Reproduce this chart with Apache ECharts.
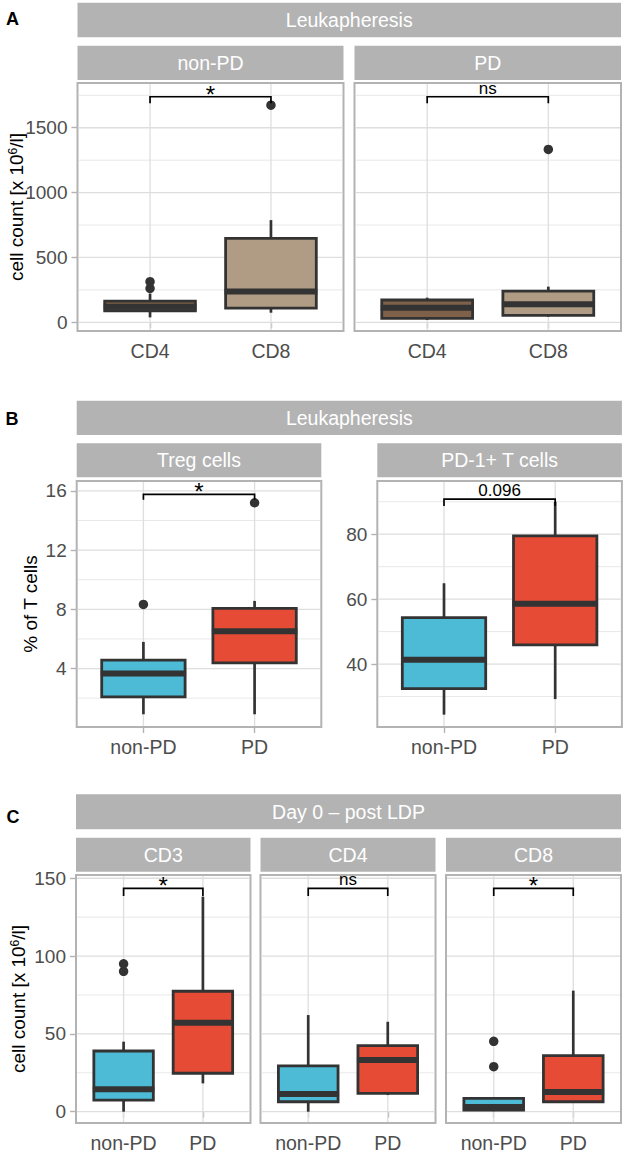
<!DOCTYPE html>
<html><head><meta charset="utf-8">
<script src="https://cdn.jsdelivr.net/npm/echarts@6/dist/echarts.min.js"></script>
<style>html,body{margin:0;padding:0;background:#fff}#c{width:634px;height:1175px}</style>
</head><body><div id="c"></div>
<script>
// ---------------- data ----------------
const groupCats = ['non-PD', 'PD'];
const cellCatsA = ['CD4', 'CD8'];
// box stats: [lower whisker, Q1, median, Q3, upper whisker]
const leukNonPD = [[38, 88, 120, 164, 222], [74, 109, 238, 647, 788]];
const leukPD = [[18, 31, 113, 172, 190], [43, 54, 139, 241, 275]];
const leukNonPDOut = [[1, 262], [1, 313], [2, 1674]];
const leukPDOut = [[2, 1333]];
const tregStats = [[0.91, 2.08, 3.66, 4.57, 5.8], [0.91, 4.38, 6.52, 8.06, 8.57]];
const tregOut = [[1, 8.33], [2, 15.2]];
const pd1Stats = [[24.4, 32.4, 41.3, 54.3, 64.9], [29.2, 45.9, 58.6, 79.5, 90.0]];
const pd1Out = [];
const day0CD3 = [[0, 7.5, 14.4, 39.0, 45], [18.2, 24.7, 57.2, 77.4, 138.2]];
const day0CD3Out = [[1, 90.2], [1, 95.0]];
const day0CD4 = [[0, 6.4, 11.3, 29.4, 62.1], [10.7, 11.8, 33.2, 42.4, 57.8]];
const day0CD4Out = [];
const day0CD8 = [[0.3, 1.1, 3.0, 8.6, 8.6], [6.0, 6.4, 12.7, 36.0, 77.8]];
const day0CD8Out = [[1, 28.9], [1, 45.2]];
// significance brackets: [bracket y, tip end y]
const sigLeuk = [1739, 1688];
const sigTreg = [15.77, 15.4];
const sigPD1 = [90.8, 88.7];
const sigDay0 = [143.5, 138.6];
const sigLabels = ['*', 'ns', '*', '0.096', '*', 'ns', '*'];
// tick labels
const ticksLeuk = [0, 500, 1000, 1500], minorLeuk = [250, 750, 1250, 1750];
const ticksTreg = [4, 8, 12, 16], minorTreg = [2, 6, 10, 14];
const ticksPD1 = [40, 60, 80], minorPD1 = [30, 50, 70, 90];
const ticksDay0 = [0, 50, 100, 150], minorDay0 = [25, 75, 125];
// strip and title texts
const topStrips = ['Leukapheresis', 'Leukapheresis', 'Day 0 \u2013 post LDP'];
const subStrips = ['non-PD', 'PD', 'Treg cells', 'PD-1+ T cells', 'CD3', 'CD4', 'CD8'];
const yTitles = ['cell count [x 10{sup|6}/l]', '% of T cells', 'cell count [x 10{sup|6}/l]'];
const panelLetters = ['A', 'B', 'C'];

// ---------------- styling / layout ----------------
const FONT = '"Liberation Sans", Arial, Helvetica, sans-serif';
const DARK = '#333333', GREY70 = '#b3b3b3', GRID = '#dedede';
const BLUE = '#4DBBD5', RED = '#E64B35', BROWN = '#7E6148', TAN = '#B09C85';
const BOX_W = 0.75;

const panels = [
  {left: 77.5, top: 83, width: 266, height: 248, yMin: -67, yMax: 1845, cats: cellCatsA, stats: leukNonPD, colors: [BROWN, TAN], out: leukNonPDOut, sig: sigLeuk, major: ticksLeuk, minor: minorLeuk, showY: true},
  {left: 354.5, top: 83, width: 266.5, height: 248, yMin: -67, yMax: 1845, cats: cellCatsA, stats: leukPD, colors: [BROWN, TAN], out: leukPDOut, sig: sigLeuk, major: ticksLeuk, minor: minorLeuk, showY: false},
  {left: 76.7, top: 481, width: 244.6, height: 246, yMin: 0.05, yMax: 16.67, cats: groupCats, stats: tregStats, colors: [BLUE, RED], out: tregOut, sig: sigTreg, major: ticksTreg, minor: minorTreg, showY: true},
  {left: 377.3, top: 481, width: 244.6, height: 246, yMin: 20.6, yMax: 96.4, cats: groupCats, stats: pd1Stats, colors: [BLUE, RED], out: pd1Out, sig: sigPD1, major: ticksPD1, minor: minorPD1, showY: true},
  {left: 76, top: 875, width: 174.5, height: 248, yMin: -7.26, yMax: 152.1, cats: groupCats, stats: day0CD3, colors: [BLUE, RED], out: day0CD3Out, sig: sigDay0, major: ticksDay0, minor: minorDay0, showY: true},
  {left: 260.5, top: 875, width: 175, height: 248, yMin: -7.26, yMax: 152.1, cats: groupCats, stats: day0CD4, colors: [BLUE, RED], out: day0CD4Out, sig: sigDay0, major: ticksDay0, minor: minorDay0, showY: false},
  {left: 446, top: 875, width: 175, height: 248, yMin: -7.26, yMax: 152.1, cats: groupCats, stats: day0CD8, colors: [BLUE, RED], out: day0CD8Out, sig: sigDay0, major: ticksDay0, minor: minorDay0, showY: false}
];

const topStripBoxes = [
  {x: 77.5, y: 2.7, w: 543.5, h: 34.6},
  {x: 76.7, y: 400.7, w: 545.2, h: 34.3},
  {x: 76, y: 794.3, w: 545, h: 35}
];
const subStripBoxes = [
  {x: 77.5, y: 45.7, w: 266, h: 34.3},
  {x: 354.5, y: 45.7, w: 266.5, h: 34.3},
  {x: 76.7, y: 443.3, w: 244.6, h: 34},
  {x: 377.3, y: 443.3, w: 244.6, h: 34},
  {x: 76, y: 837.7, w: 174.5, h: 34},
  {x: 260.5, y: 837.7, w: 175, h: 34},
  {x: 446, y: 837.7, w: 175, h: 34}
];
const yTitlePos = [[16, 207], [30, 604], [18, 999]];
const letterPos = [[12.5, 19], [12, 419], [13, 817]];

function renderGridLines(params, api) {
  const v = api.value(0), kind = api.value(1);
  const cs = params.coordSys;
  if (kind === 2) {
    const x = api.coord([v, 0])[0];
    return {type: 'line', shape: {x1: x, y1: cs.y + 1, x2: x, y2: cs.y + cs.height - 1}, style: {stroke: GRID, lineWidth: 1.3}};
  }
  const y = api.coord([1, v])[1];
  return {type: 'line', shape: {x1: cs.x + 1, y1: y, x2: cs.x + cs.width - 1, y2: y}, style: {stroke: GRID, lineWidth: kind === 1 ? 1.3 : 0.7}};
}

function renderBox(params, api) {
  const x = api.value(0);
  const lo = api.coord([x, api.value(1)]);
  const q1 = api.coord([x, api.value(2)]);
  const md = api.coord([x, api.value(3)]);
  const q3 = api.coord([x, api.value(4)]);
  const hi = api.coord([x, api.value(5)]);
  const hw = api.size([BOX_W, 0])[0] / 2;
  const cx = lo[0];
  const fill = api.visual('color');
  return {type: 'group', children: [
    {type: 'line', shape: {x1: cx, y1: q3[1], x2: cx, y2: hi[1]}, style: {stroke: DARK, lineWidth: 2.7}},
    {type: 'line', shape: {x1: cx, y1: q1[1], x2: cx, y2: lo[1]}, style: {stroke: DARK, lineWidth: 2.7}},
    {type: 'rect', shape: {x: cx - hw, y: q3[1], width: 2 * hw, height: q1[1] - q3[1]}, style: {fill: fill, stroke: DARK, lineWidth: 2.8}},
    {type: 'line', shape: {x1: cx - hw - 1, y1: md[1], x2: cx + hw + 1, y2: md[1]}, style: {stroke: DARK, lineWidth: 6}}
  ]};
}

function makeBracketRender(label) {
  return function (params, api) {
    const x1 = api.value(0), x2 = api.value(1), yb = api.value(2), yt = api.value(3);
    const a = api.coord([x1, yt]), b = api.coord([x1, yb]), c = api.coord([x2, yb]), d = api.coord([x2, yt]);
    const star = label === '*';
    return {type: 'group', children: [
      {type: 'polyline', shape: {points: [a, b, c, d]}, style: {stroke: '#000', lineWidth: 1.7, fill: null}},
      {type: 'text', style: {text: label, x: (b[0] + c[0]) / 2, y: star ? b[1] - 2.5 : b[1],
        align: 'center', verticalAlign: star ? 'middle' : 'bottom',
        fontSize: star ? 24 : 17, fontFamily: FONT, fill: '#000'}}
    ]};
  };
}

const option = {
  backgroundColor: '#fff', animation: false,
  textStyle: {fontFamily: FONT},
  grid: [], xAxis: [], yAxis: [], series: [], graphic: []
};

panels.forEach((p, i) => {
  option.grid.push({left: p.left, top: p.top, width: p.width, height: p.height, show: true,
    borderColor: GREY70, borderWidth: 2, backgroundColor: '#fff', containLabel: false});
  option.xAxis.push({type: 'value', gridIndex: i, min: 0.4, max: 2.6,
    axisLine: {show: false}, splitLine: {show: false},
    axisTick: {show: true, customValues: [1, 2], length: 6, lineStyle: {color: GREY70, width: 1.4}},
    axisLabel: {show: true, customValues: [1, 2], formatter: v => p.cats[Math.round(v) - 1], margin: 10,
      color: '#4d4d4d', fontSize: 19.5, fontFamily: FONT}});
  option.yAxis.push({type: 'value', gridIndex: i, min: p.yMin, max: p.yMax,
    axisLine: {show: false}, splitLine: {show: false},
    axisTick: {show: p.showY, customValues: p.major, length: 6, lineStyle: {color: GREY70, width: 1.4}},
    axisLabel: {show: p.showY, customValues: p.major, formatter: v => String(v), margin: 10,
      color: '#4d4d4d', fontSize: 19, fontFamily: FONT}});
  const gridData = p.major.map(v => [v, 1]).concat(p.minor.map(v => [v, 0])).concat([[1, 2], [2, 2]]);
  option.series.push({type: 'custom', xAxisIndex: i, yAxisIndex: i, z: 1, silent: true,
    renderItem: renderGridLines, data: gridData});
  option.series.push({type: 'custom', xAxisIndex: i, yAxisIndex: i, z: 3, silent: true,
    renderItem: renderBox,
    data: p.stats.map((s, k) => ({value: [k + 1].concat(s), itemStyle: {color: p.colors[k]}}))});
  option.series.push({type: 'scatter', xAxisIndex: i, yAxisIndex: i, z: 4, silent: true,
    symbol: 'circle', symbolSize: 9.5, itemStyle: {color: DARK, opacity: 1}, data: p.out});
  option.series.push({type: 'custom', xAxisIndex: i, yAxisIndex: i, z: 5, silent: true,
    renderItem: makeBracketRender(sigLabels[i]), data: [[1, 2, p.sig[0], p.sig[1]]]});
});

topStripBoxes.forEach((s, i) => {
  option.graphic.push({type: 'rect', shape: {x: s.x, y: s.y, width: s.w, height: s.h}, style: {fill: GREY70}, silent: true});
  option.graphic.push({type: 'text', x: s.x + s.w / 2, y: s.y + s.h / 2, silent: true,
    style: {text: topStrips[i], align: 'center', verticalAlign: 'middle', fill: '#fff', fontSize: 19.5, fontFamily: FONT}});
});
subStripBoxes.forEach((s, i) => {
  option.graphic.push({type: 'rect', shape: {x: s.x, y: s.y, width: s.w, height: s.h}, style: {fill: GREY70}, silent: true});
  option.graphic.push({type: 'text', x: s.x + s.w / 2, y: s.y + s.h / 2, silent: true,
    style: {text: subStrips[i], align: 'center', verticalAlign: 'middle', fill: '#fff', fontSize: 19.5, fontFamily: FONT}});
});
yTitles.forEach((t, i) => {
  option.graphic.push({type: 'text', x: yTitlePos[i][0], y: yTitlePos[i][1], rotation: Math.PI / 2, silent: true,
    style: {text: t, align: 'center', verticalAlign: 'middle', fill: '#000', fontSize: 19, fontFamily: FONT,
      rich: {sup: {fontSize: 12, verticalAlign: 'top', fill: '#000', fontFamily: FONT}}}});
});
panelLetters.forEach((t, i) => {
  option.graphic.push({type: 'text', x: letterPos[i][0], y: letterPos[i][1], silent: true,
    style: {text: t, align: 'center', verticalAlign: 'middle', fill: '#000', fontSize: 18, fontWeight: 'bold', fontFamily: FONT}});
});

const chart = echarts.init(document.getElementById('c'), null, {renderer: 'svg', width: 634, height: 1175});
chart.setOption(option);
</script>
</body></html>
